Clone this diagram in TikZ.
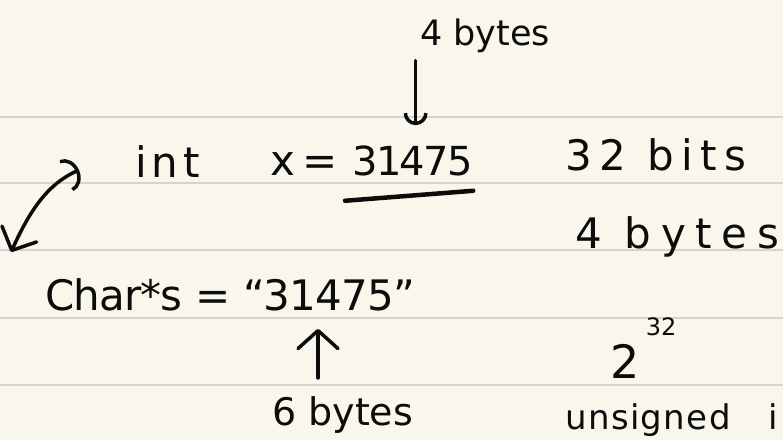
\documentclass[tikz,border=0pt]{standalone}
\usepackage{fontspec}
\setmainfont{DejaVu Sans}
\usepackage{tikz}
\usetikzlibrary{arrows.meta, positioning, calc}
\definecolor{NotePaper}{RGB}{249,247,236}
\definecolor{NoteRule}{RGB}{212,212,212}
\definecolor{NoteInk}{RGB}{12,12,12}

\begin{document}
\begin{tikzpicture}[x=1pt, y=-1pt,
    ink/.style={inner sep=0pt, anchor=base west, text=NoteInk},
    big/.style={ink, font=\fontsize{42}{42}\selectfont},
    small/.style={ink, font=\fontsize{35}{35}\selectfont},
    arrow/.style={line width=3.5pt, draw=NoteInk, line cap=round, line join=round},
    underline/.style={line width=4.5pt, draw=NoteInk, line cap=round}
]
\fill[NotePaper] (0,0) rectangle (783,440);
\useasboundingbox (0,0) rectangle (783,440);
\clip (0,0) rectangle (783,440);
\foreach \y in {117,183,250,318,385}
    \draw[NoteRule, line width=2pt] (0,\y) -- (783,\y);

% first line: the int
\node[small] (topbytes) at (420,45) {4 bytes};
\node[big, font=\fontsize{42}{42}\selectfont\addfontfeature{LetterSpace=12}] (int) at (135,177) {int};
\node[big] (xeq) at (270,175) {x\,=};
\node[big, font=\fontsize{40}{40}\selectfont\addfontfeature{LetterSpace=-4}] (num) at (352,175) {31475};
\node[big, font=\fontsize{42}{42}\selectfont\addfontfeature{LetterSpace=18}] (bits) at (565,170) {32 bits};
\node[big, font=\fontsize{42}{42}\selectfont\addfontfeature{LetterSpace=23}] (bytes) at (575,248) {4 bytes};

% second line: the string
\node[big, font=\fontsize{42}{42}\selectfont\addfontfeature{LetterSpace=-2}] (str) at (45,310) {Char*s = ``31475''};
\node[small, font=\fontsize{38}{38}\selectfont] (sixbytes) at (272,425) {6 bytes};
\node[ink, font=\fontsize{46}{46}\selectfont] (two) at (610,378) {2};
\node[ink, font=\fontsize{24}{24}\selectfont] (pow) at ($(two.north east)+(6,-8)$) {32};
\node[small, font=\fontsize{34}{34}\selectfont\addfontfeature{LetterSpace=4}] (unsigned) at (565,429) {unsigned\hspace{1.1em}i};

\coordinate (swapLo) at (11,252);
\coordinate (swapHi) at (79,170);

\draw[arrow, -{Arc Barb[length=12pt, width=24pt]}]
    ($(num.north |- topbytes.south)+(3,8)$) -- ($(num.north)+(3,-20)$);
\draw[underline] ($(num.south west)+(-7,25)$) -- ($(num.south east)+(0,15)$);
\draw[arrow, -{Straight Barb[round, length=18pt, width=40pt]}]
    ($(sixbytes.north west)+(46,-18)$) -- ($(sixbytes.north west |- str.south)+(46,18)$);
\draw[arrow, {Straight Barb[round, length=18pt, width=38pt]}-{Arc Barb[length=14pt, width=34pt]}]
    (swapLo) .. controls (28,215) and (45,185) .. (swapHi);
\end{tikzpicture}
\end{document}
